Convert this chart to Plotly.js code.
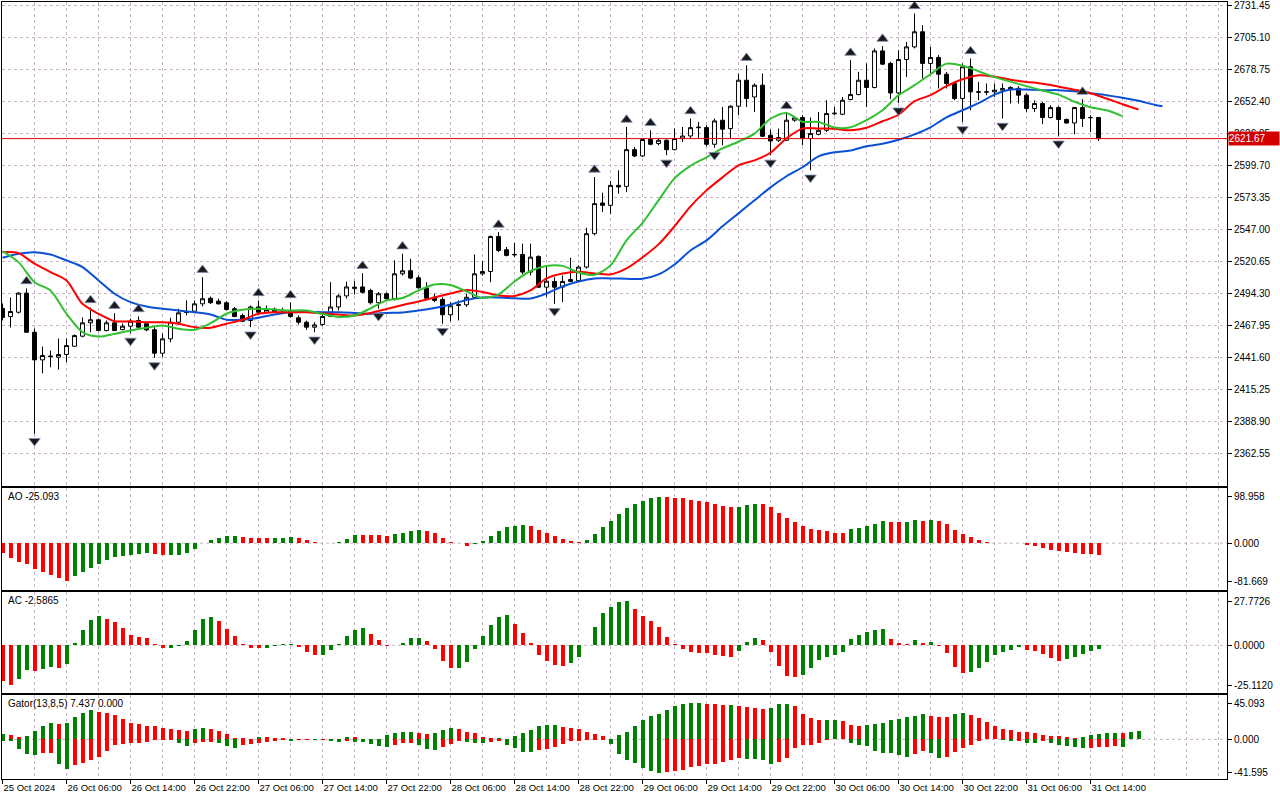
<!DOCTYPE html>
<html><head><meta charset="utf-8">
<script src="https://cdn.plot.ly/plotly-3.0.1.min.js"></script>
<style>html,body{margin:0;padding:0;background:#fff;overflow:hidden}#chart{width:1280px;height:800px}</style>
</head><body><div id="chart"></div>
<script>
// ---------- price data (hourly ETH bars) ----------
const openP = [2482.0,2475.4,2478.9,2494.6,2462.4,2439.7,2442.9,2441.9,2444.1,2450.9,
 2459.2,2470.2,2472.7,2463.9,2470.2,2464.7,2467.4,2472.1,2469.4,2464.5,
 2445.2,2457.0,2470.7,2478.7,2479.7,2485.8,2490.4,2488.0,2486.7,2481.7,
 2476.2,2472.1,2483.2,2478.9,2481.4,2479.9,2480.3,2474.3,2470.7,2466.6,
 2468.8,2475.4,2483.2,2492.3,2498.3,2499.7,2496.8,2486.7,2494.1,2490.0,
 2510.5,2513.0,2507.2,2499.0,2491.2,2489.4,2476.8,2484.4,2485.0,2491.2,
 2510.5,2512.4,2541.2,2530.3,2526.0,2526.4,2511.9,2524.8,2499.5,2504.2,
 2499.5,2504.2,2505.0,2516.0,2543.5,2568.7,2566.8,2583.2,2582.4,2612.6,
 2607.4,2620.9,2617.6,2620.3,2612.6,2621.7,2623.8,2630.6,2630.7,2617.0,
 2636.8,2629.9,2648.3,2669.7,2655.9,2665.6,2624.4,2620.3,2620.3,2636.8,
 2639.0,2621.7,2625.2,2628.5,2642.1,2641.7,2653.8,2657.9,2669.7,2663.7,
 2693.8,2683.5,2659.2,2686.7,2697.1,2709.5,2683.5,2688.4,2674.6,2667.0,
 2654.6,2680.7,2660.2,2659.8,2660.1,2661.5,2663.7,2663.0,2657.4,2646.4,
 2650.5,2639.0,2647.2,2637.4,2634.5,2647.2,2638.8,2639.0];
const highP = [2486.1,2491.0,2495.4,2498.4,2465.5,2450.7,2447.4,2457.3,2457.3,2460.6,
 2474.6,2482.8,2473.7,2472.1,2478.1,2469.6,2473.7,2475.4,2470.7,2466.6,
 2461.4,2474.3,2481.7,2488.6,2488.6,2507.7,2491.8,2490.0,2488.0,2483.2,
 2477.7,2484.4,2488.6,2484.4,2482.8,2482.6,2486.9,2476.2,2472.1,2470.7,
 2478.9,2503.6,2493.8,2504.1,2504.6,2511.0,2498.2,2495.4,2495.3,2521.5,
 2527.0,2522.9,2509.1,2503.6,2494.1,2491.2,2487.2,2488.6,2494.1,2526.4,
 2520.9,2542.0,2544.8,2532.5,2535.8,2535.3,2535.3,2525.6,2517.4,2507.6,
 2509.1,2523.7,2517.4,2548.4,2590.1,2577.2,2586.8,2595.6,2631.2,2614.8,
 2621.9,2628.5,2621.7,2620.9,2629.9,2631.2,2638.2,2635.4,2632.6,2638.2,
 2647.7,2649.1,2675.2,2682.0,2667.0,2675.2,2629.1,2629.9,2642.5,2639.6,
 2640.9,2639.0,2643.6,2653.2,2647.7,2655.9,2686.2,2676.5,2683.5,2695.8,
 2697.7,2684.8,2694.4,2701.2,2724.6,2715.0,2697.1,2690.3,2676.5,2668.3,
 2683.5,2687.6,2668.3,2667.0,2667.0,2667.0,2664.8,2664.8,2658.8,2653.2,
 2651.8,2649.1,2648.3,2638.2,2647.7,2654.1,2640.9,2639.5];
const lowP = [2472.1,2466.3,2477.8,2462.2,2379.0,2428.7,2433.6,2431.7,2437.8,2450.7,
 2458.3,2462.4,2463.0,2463.0,2463.4,2463.9,2461.5,2466.1,2463.3,2441.3,
 2441.9,2454.2,2469.4,2476.2,2478.9,2483.6,2485.8,2485.3,2480.3,2474.8,
 2470.7,2466.6,2477.7,2477.7,2478.3,2478.1,2474.3,2468.9,2464.4,2462.4,
 2467.5,2474.8,2480.3,2490.1,2493.5,2494.4,2485.3,2481.7,2489.1,2488.6,
 2509.1,2506.1,2498.2,2489.6,2487.2,2469.4,2471.5,2472.1,2483.2,2490.0,
 2509.1,2503.6,2528.3,2524.8,2524.2,2510.0,2509.1,2499.0,2491.5,2485.8,
 2487.2,2503.6,2503.6,2514.7,2542.1,2561.2,2559.9,2576.4,2577.7,2606.5,
 2606.5,2616.2,2616.2,2607.9,2612.1,2618.9,2621.7,2621.7,2615.3,2614.1,
 2616.2,2621.7,2640.9,2647.7,2643.6,2623.0,2607.9,2618.9,2619.7,2635.4,
 2616.2,2595.6,2624.4,2627.1,2640.9,2640.9,2653.2,2657.3,2647.7,2662.9,
 2682.1,2654.1,2650.8,2672.4,2695.8,2671.1,2675.2,2662.9,2662.9,2653.2,
 2635.4,2645.0,2653.2,2657.3,2655.9,2638.2,2650.5,2650.5,2643.6,2643.6,
 2633.5,2638.2,2623.6,2634.0,2625.2,2631.2,2627.1,2619.7];
const closeP = [2474.6,2479.5,2494.6,2462.4,2439.7,2443.3,2442.4,2444.1,2451.5,2459.7,
 2470.2,2472.7,2463.9,2470.2,2463.9,2467.4,2471.5,2466.6,2464.4,2445.2,
 2457.0,2470.7,2478.4,2479.1,2485.8,2490.0,2486.7,2485.8,2481.1,2475.4,
 2471.5,2483.2,2478.9,2481.1,2478.9,2480.3,2475.4,2470.7,2466.6,2468.5,
 2475.4,2483.2,2492.3,2499.7,2499.5,2495.3,2486.7,2494.1,2490.0,2510.5,
 2513.0,2507.0,2499.0,2490.4,2488.6,2476.8,2484.2,2485.0,2491.2,2510.5,
 2512.4,2541.2,2529.7,2525.6,2526.4,2511.9,2524.2,2499.5,2504.4,2499.5,
 2504.2,2505.8,2516.0,2543.5,2568.2,2566.8,2583.2,2581.9,2612.6,2607.4,
 2620.9,2617.0,2620.3,2612.6,2621.7,2623.8,2630.7,2631.0,2617.0,2636.2,
 2629.4,2648.3,2669.7,2654.6,2665.6,2623.6,2619.7,2622.5,2636.8,2638.7,
 2621.7,2625.8,2628.5,2642.3,2642.5,2653.2,2657.9,2669.7,2663.7,2693.8,
 2682.9,2659.2,2686.7,2697.1,2709.5,2683.5,2688.4,2674.6,2667.0,2654.6,
 2680.7,2660.1,2659.8,2660.1,2661.5,2662.9,2662.0,2657.4,2646.4,2650.5,
 2639.0,2647.2,2637.4,2634.5,2647.2,2638.2,2639.0,2621.67];

const jawBars = [0,2,4,6,8,10,12,14,16,18,20,22,24,26,28,30,32,34,36,38,40,42,44,46,48,50,52,54,56,58,60,62,64,66,68,70,72,74,76,78,80,82,84,86,88,90,92,94,96,98,100,102,104,106,108,110,112,114,116,118,120,122,124,126,128,130,132,134,136,138,140,142,144,145];
const jawVals = [2523.7,2527.0,2528.3,2526.4,2521.5,2516.0,2505.0,2494.1,2487.2,2483.6,
 2481.7,2480.3,2478.9,2477.0,2472.7,2472.7,2474.3,2477.0,2478.9,2479.1,
 2478.9,2478.9,2478.3,2477.6,2478.3,2478.7,2480.3,2482.4,2485.3,2489.0,
 2491.0,2491.0,2490.4,2490.2,2494.3,2500.1,2504.2,2506.7,2506.7,2506.4,
 2506.4,2510.0,2518.2,2529.7,2538.0,2549.5,2560.2,2570.9,2581.6,2590.7,
 2598.1,2607.1,2610.4,2611.8,2615.4,2617.4,2620.7,2625.2,2631.0,2639.2,
 2645.0,2650.8,2657.8,2662.0,2662.0,2661.5,2661.5,2660.6,2659.0,2657.4,
 2655.3,2652.8,2649.5,2648.3];
const teethBars = [0,2,4,6,8,10,12,14,16,18,20,22,24,26,28,30,32,34,36,38,40,42,44,46,48,50,52,54,56,58,60,62,64,66,68,70,72,74,76,78,80,82,84,86,88,90,92,94,96,98,100,102,104,106,108,110,112,114,116,118,120,122,124,126,128,130,132,134,136,138,140,142];
const teethVals = [2528.3,2527.5,2518.8,2511.9,2505.0,2485.8,2477.6,2471.5,2471.5,2470.7,
 2470.7,2469.4,2466.6,2466.1,2469.4,2472.7,2477.6,2478.9,2478.9,2478.9,
 2477.8,2477.0,2476.2,2478.3,2481.5,2484.8,2487.7,2491.0,2494.3,2497.2,
 2495.6,2492.7,2492.3,2496.8,2506.7,2510.8,2512.2,2510.8,2510.0,2514.9,
 2524.0,2534.7,2549.5,2566.0,2579.1,2589.8,2599.7,2603.8,2610.0,2621.9,
 2629.9,2629.9,2629.8,2628.5,2630.6,2635.9,2641.3,2652.4,2657.4,2664.8,
 2670.5,2673.8,2672.6,2670.1,2668.3,2666.8,2664.4,2661.9,2659.0,2654.6,
 2649.9,2645.6];
const lipsBars = [0,2,4,6,8,10,12,14,16,18,20,22,24,26,28,30,32,34,36,38,40,42,44,46,48,50,52,54,56,58,60,62,64,66,68,70,72,74,76,78,80,82,84,86,88,90,92,94,96,98,100,102,104,106,108,110,112,114,116,118,120,122,124,126,128,130,132,134,136,138,140];
const lipsVals = [2529.1,2520.1,2503.6,2496.8,2477.6,2462.5,2458.9,2461.1,2463.9,2466.1,
 2468.0,2465.3,2464.4,2469.9,2477.6,2480.9,2481.7,2481.1,2480.3,2480.3,
 2477.4,2475.0,2476.2,2482.0,2488.6,2490.6,2496.8,2501.7,2501.3,2496.0,
 2490.6,2493.5,2504.2,2512.8,2517.0,2517.0,2511.6,2509.6,2517.4,2538.0,
 2552.4,2570.9,2589.0,2599.3,2606.3,2613.7,2619.1,2625.8,2638.0,2642.8,
 2635.5,2635.4,2630.8,2631.0,2636.8,2645.0,2657.3,2665.6,2674.6,2683.3,
 2681.6,2677.1,2672.2,2668.5,2664.8,2661.2,2657.8,2652.0,2647.5,2645.0,
 2640.1];

// ---------- Fractals (bar numbers) ----------
const fractalUpBars = [3,11,14,17,25,32,36,45,50,62,74,78,81,86,93,98,106,110,114,121,135];
const fractalDownBars = [4,16,19,31,39,47,55,69,83,89,96,101,112,120,125,132];

// ---------- Oscillators ----------
const aoVals = [-19.9,-32.0,-39.8,-44.8,-55.5,-61.1,-67.5,-75.4,-81.669,-69.7,
 -61.9,-52.6,-44.8,-35.6,-29.2,-27.0,-24.9,-23.5,-21.3,-22.8,
 -25.6,-25.4,-24.9,-20.6,-12.1,0.5,6.4,10.7,14.9,15.2,
 12.8,11.4,11.2,11.0,11.3,11.5,13.5,10.7,6.4,2.8,
 0.7,0.8,2.1,8.5,17.8,17.5,17.3,17.1,16.5,19.2,
 21.3,26.3,27.7,26.3,21.3,10.7,2.1,0.7,-5.7,-1.4,
 4.3,14.9,25.6,34.1,37.0,38.4,36.3,27.7,21.3,14.9,
 8.5,4.3,2.1,6.4,19.2,34.1,46.9,61.9,74.7,83.2,
 90.3,96.0,98.958,98.1,96.0,95.8,91.7,90.3,87.5,83.2,
 78.9,76.8,77.5,81.8,83.2,83.0,76.8,64.0,53.3,44.8,
 36.3,30.6,27.7,25.6,22.8,21.3,29.9,32.7,37.0,40.5,
 46.9,44.8,44.6,44.9,49.1,46.9,49.8,46.9,40.5,27.7,
 19.2,12.8,6.4,2.1,1.4,0.3,-0.3,-0.5,-3.6,-5.7,
 -9.2,-13.5,-17.5,-19.0,-21.5,-22.0,-23.0,-25.093];
const acVals = [-22.5,-25.112,-21.5,-15.6,-16.2,-15.1,-13.7,-14.5,-12.0,1.3,
 9.7,15.8,18.3,16.4,14.7,10.7,6.5,5.3,4.4,0.6,
 -1.5,-1.4,-0.2,2.5,9.7,16.4,17.7,15.1,10.1,5.7,
 0.6,-1.5,-1.6,-1.4,-0.1,0.6,1.1,-0.8,-4.0,-6.1,
 -6.0,-2.9,0.6,5.7,9.5,10.7,6.9,3.2,-0.1,0.3,
 1.3,4.4,4.8,2.5,-2.3,-9.9,-14.3,-14.2,-10.5,-2.3,
 5.7,12.6,18.1,18.9,13.3,7.6,1.3,-6.1,-9.9,-12.4,
 -13.0,-11.2,-7.4,0.3,11.6,20.4,24.2,27.5,27.7726,22.7,
 18.3,15.4,11.6,5.0,0.6,-2.3,-4.4,-4.8,-5.0,-6.1,
 -6.7,-7.4,-3.6,1.9,4.4,3.4,-4.2,-13.0,-19.6,-20.0,
 -18.7,-14.3,-9.3,-7.4,-6.1,-4.2,3.8,6.3,8.2,9.7,
 10.1,3.8,1.3,0.6,3.2,1.3,1.9,-0.4,-4.8,-13.7,
 -17.5,-16.8,-14.3,-10.5,-6.1,-4.0,-2.7,-1.1,-2.9,-3.6,
 -5.3,-8.0,-9.9,-8.6,-7.4,-5.3,-3.6,-2.5865];
const gatorUpper = [6.2,5.4,2.9,3.7,10.0,16.2,19.9,18.7,20.5,27.4,
 33.2,36.1,33.6,32.4,29.9,25.7,20.8,18.7,17.0,16.2,
 14.5,13.3,12.0,10.4,12.5,14.5,13.3,10.0,6.2,2.1,
 1.2,1.0,3.3,2.5,1.6,1.2,0.9,0.8,0.6,0.8,
 0.6,0.5,0.7,3.0,2.5,1.0,0.5,0.3,5.0,7.5,
 8.7,8.8,7.9,6.2,7.5,11.2,13.7,13.3,9.5,7.5,
 3.3,1.2,1.3,1.0,3.7,7.5,11.2,16.2,17.4,17.5,
 14.9,13.7,12.5,8.7,6.2,3.7,0.3,5.4,8.7,16.2,
 23.7,28.6,31.1,36.1,41.1,43.6,44.8,45.093,44.7,43.6,
 42.3,42.4,42.0,40.3,38.6,37.4,39.4,43.6,43.7,41.5,
 31.9,26.1,23.7,24.0,24.1,22.8,17.8,16.6,17.8,19.1,
 20.3,24.1,25.3,27.8,29.1,31.5,29.1,27.8,27.7,31.5,
 32.8,30.3,26.6,21.6,16.6,12.9,11.6,9.1,9.0,7.9,
 5.4,4.2,4.1,2.9,1.7,2.9,5.4,6.6,7.9,8.0,
 7.437,9.1,10.0];
const gatorLower = [-2.1,-2.5,-12.5,-18.7,-19.5,-17.0,-16.9,-31.1,-37.4,-32.4,
 -29.5,-26.1,-21.6,-14.5,-7.1,-5.4,-5.0,-4.2,-2.9,-1.2,
 -0.8,-0.7,-5.0,-8.3,-5.0,-3.3,-3.2,-4.6,-8.3,-10.4,
 -6.6,-6.2,-4.0,-3.0,-1.5,-0.8,-1.7,-1.0,-0.5,-1.2,
 -0.6,-2.1,-2.9,-2.0,-2.9,-3.3,-5.8,-8.3,-9.5,-7.1,
 -5.0,-4.9,-6.6,-12.5,-13.7,-9.5,-5.8,-2.1,-3.3,-4.6,
 -4.7,-3.3,-2.1,-7.1,-10.8,-15.8,-15.9,-13.3,-12.0,-9.5,
 -5.8,-2.5,-2.1,-1.2,-0.8,-0.4,-5.8,-17.8,-26.1,-29.5,
 -35.7,-39.4,-41.595,-40.3,-39.4,-38.2,-34.9,-33.2,-30.7,-30.5,
 -28.6,-26.1,-23.7,-24.5,-25.0,-26.1,-30.7,-28.2,-22.8,-10.4,
 -7.1,-7.0,-5.0,-0.5,0,0,-4.2,-7.1,-8.3,-14.5,
 -16.6,-16.7,-19.5,-22.0,-18.3,-14.5,-17.0,-23.2,-22.0,-15.8,
 -10.8,-7.1,-2.1,0,0,-0.8,-2.1,-2.0,-4.6,-4.7,
 -2.1,-4.6,-7.1,-8.3,-9.5,-10.8,-10.7,-9.5,-9.4,-8.3,
 -9.5];

// ---------- axis labels ----------
const timeLabels = ['25 Oct 2024','26 Oct 06:00','26 Oct 14:00','26 Oct 22:00','27 Oct 06:00','27 Oct 14:00','27 Oct 22:00','28 Oct 06:00','28 Oct 14:00','28 Oct 22:00','29 Oct 06:00','29 Oct 14:00','29 Oct 22:00','30 Oct 06:00','30 Oct 14:00','30 Oct 22:00','31 Oct 06:00','31 Oct 14:00'];
const priceTicks = [2362.55,2388.90,2415.25,2441.60,2467.95,2494.30,2520.65,2547.00,2573.35,2599.70,2626.05,2652.40,2678.75,2705.10,2731.45];
const aoTicks = [98.958,0,-81.669];
const acTicks = [27.7726,0,-25.1120];
const gatorTicks = [45.093,0,-41.595];

// ---------- styling ----------
const GRID = '#c8b6c8', GDASH = '3px,3px';
const GREEN = '#008000', RED = '#ff0000';
const FONT = 'Liberation Sans, Arial, sans-serif';
const FS = 10, FSX = 9.5;
const XR = [-0.0625, 153.06];
const FRACTAL_GAP = 6;

const idx = (arr) => arr.map((_, i) => i);
function trendColors(vals, first, useAbs) {
  return vals.map((v, i) => {
    if (i === 0) return first;
    const a = useAbs ? Math.abs(v) : v, b = useAbs ? Math.abs(vals[i-1]) : vals[i-1];
    return a > b ? GREEN : RED;
  });
}
const bars = idx(closeP);
const lastClose = closeP[closeP.length-1];

const traces = [
  {type:'candlestick', x:bars, open:openP, high:highP, low:lowP, close:closeP, xaxis:'x', yaxis:'y',
   increasing:{line:{color:'#000',width:1}, fillcolor:'#ffffff'},
   decreasing:{line:{color:'#000',width:1}, fillcolor:'#000000'},
   whiskerwidth:0, hoverinfo:'skip', showlegend:false},
  {type:'scatter', mode:'lines', x:jawBars, y:jawVals, xaxis:'x', yaxis:'y', line:{color:'#0a50d4', width:2, shape:'spline', smoothing:0.8}, hoverinfo:'skip'},
  {type:'scatter', mode:'lines', x:teethBars, y:teethVals, xaxis:'x', yaxis:'y', line:{color:'#ff0000', width:2, shape:'spline', smoothing:0.8}, hoverinfo:'skip'},
  {type:'scatter', mode:'lines', x:lipsBars, y:lipsVals, xaxis:'x', yaxis:'y', line:{color:'#30c030', width:2, shape:'spline', smoothing:0.8}, hoverinfo:'skip'},
  {type:'scatter', mode:'markers', x:fractalUpBars, y:fractalUpBars.map(b => highP[b] + FRACTAL_GAP), xaxis:'x', yaxis:'y',
   marker:{symbol:'triangle-up', size:10, color:'#1a1a1a', line:{color:'#8090b8', width:0.8}}, hoverinfo:'skip'},
  {type:'scatter', mode:'markers', x:fractalDownBars, y:fractalDownBars.map(b => lowP[b] - FRACTAL_GAP), xaxis:'x', yaxis:'y',
   marker:{symbol:'triangle-down', size:10, color:'#1a1a1a', line:{color:'#8090b8', width:0.8}}, hoverinfo:'skip'},
  {type:'bar', x:idx(aoVals), y:aoVals, xaxis:'x2', yaxis:'y2', width:0.5, marker:{color:trendColors(aoVals, RED, false), line:{width:0}}, hoverinfo:'skip'},
  {type:'bar', x:idx(acVals), y:acVals, xaxis:'x3', yaxis:'y3', width:0.5, marker:{color:trendColors(acVals, RED, false), line:{width:0}}, hoverinfo:'skip'},
  {type:'bar', x:idx(gatorUpper), y:gatorUpper, xaxis:'x4', yaxis:'y4', width:0.5, marker:{color:trendColors(gatorUpper, GREEN, true), line:{width:0}}, hoverinfo:'skip'},
  {type:'bar', x:idx(gatorLower), y:gatorLower, xaxis:'x4', yaxis:'y4', width:0.5, marker:{color:trendColors(gatorLower, GREEN, true), line:{width:0}}, hoverinfo:'skip'}
];

function xAxis(anchor) {
  return {anchor, range:XR, showline:true, mirror:true, linecolor:'#000', linewidth:1, zeroline:false,
    showgrid:true, gridcolor:GRID, griddash:GDASH, gridwidth:1, tickmode:'linear', tick0:0, dtick:4,
    showticklabels:false, ticks:'', fixedrange:true, rangeslider:{visible:false}};
}
function yAxis(anchor, domain, range, tickvals, decimals, grid) {
  return {anchor, domain, range, side:'right', showline:true, mirror:true, linecolor:'#000', linewidth:1,
    zeroline:false, showgrid:grid, gridcolor:GRID, griddash:GDASH, gridwidth:1,
    tickmode:'array', tickvals, ticktext:tickvals.map(v => v.toFixed(decimals)), ticklabeloverflow:'allow',
    ticks:'outside', ticklen:4, tickcolor:'#000', tickfont:{family:FONT, size:FS, color:'#000'}, fixedrange:true};
}
const bottomAxis = Object.assign(xAxis('y4'), {
  tickmode:'array', tickvals:timeLabels.map((_, i) => i*8), ticktext:timeLabels,
  showticklabels:true, ticks:'outside', ticklen:4, tickcolor:'#000', ticklabelposition:'outside right',
  tickangle:0, ticklabeloverflow:'allow', tickfont:{family:FONT, size:FSX, color:'#000'},
  minor:{tickmode:'linear', tick0:0, dtick:4, showgrid:true, gridcolor:GRID, griddash:GDASH, ticks:''}
});

const zeroLine = (yref, xref) => ({type:'line', xref:xref+' domain', x0:0, x1:1, yref, y0:0, y1:0, line:{color:GRID, width:1, dash:GDASH}, layer:'below'});

const layout = {
  width:1280, height:800, margin:{l:2, r:53, t:2, b:21, pad:0},
  paper_bgcolor:'#fff', plot_bgcolor:'#fff', showlegend:false, barmode:'overlay', bargap:0,
  font:{family:FONT, size:FS, color:'#000'},
  xaxis:xAxis('y'), xaxis2:xAxis('y2'), xaxis3:xAxis('y3'), xaxis4:bottomAxis,
  yaxis:yAxis('x', [0.37741, 1], [2336.2, 2734.0], priceTicks, 2, true),
  yaxis2:yAxis('x2', [0.24262, 0.37446], [-101.1, 118.0], aoTicks, 3, false),
  yaxis3:yAxis('x3', [0.11040, 0.24095], [-30.3, 33.9], acTicks, 4, false),
  yaxis4:yAxis('x4', [0, 0.10822], [-49.4, 55.5], gatorTicks, 3, false),
  shapes:[
    zeroLine('y2','x2'), zeroLine('y3','x3'), zeroLine('y4','x4'),
    {type:'line', xref:'x domain', x0:0, x1:1, yref:'y', y0:lastClose, y1:lastClose, line:{color:'#e00000', width:1}}
  ],
  annotations:[
    {xref:'paper', x:1, xanchor:'left', xshift:1, yref:'y', y:lastClose, yanchor:'middle', text:lastClose.toFixed(2),
     showarrow:false, bgcolor:'#d40000', font:{family:FONT, size:FS, color:'#fff'}, width:50, height:13, align:'left', borderpad:0},
    {xref:'paper', x:0, xanchor:'left', xshift:4, yref:'y2 domain', y:1, yanchor:'top', yshift:-1, text:'AO ' + aoVals[aoVals.length-1].toFixed(3), showarrow:false, font:{family:FONT, size:FS, color:'#000'}},
    {xref:'paper', x:0, xanchor:'left', xshift:4, yref:'y3 domain', y:1, yanchor:'top', yshift:-1, text:'AC ' + acVals[acVals.length-1].toFixed(4), showarrow:false, font:{family:FONT, size:FS, color:'#000'}},
    {xref:'paper', x:0, xanchor:'left', xshift:4, yref:'y4 domain', y:1, yanchor:'top', yshift:-1, text:'Gator(13,8,5) ' + gatorUpper[140].toFixed(3) + ' 0.000', showarrow:false, font:{family:FONT, size:FS, color:'#000'}}
  ]
};

Plotly.newPlot('chart', traces, layout, {displayModeBar:false, staticPlot:true});
</script>
</body></html>
